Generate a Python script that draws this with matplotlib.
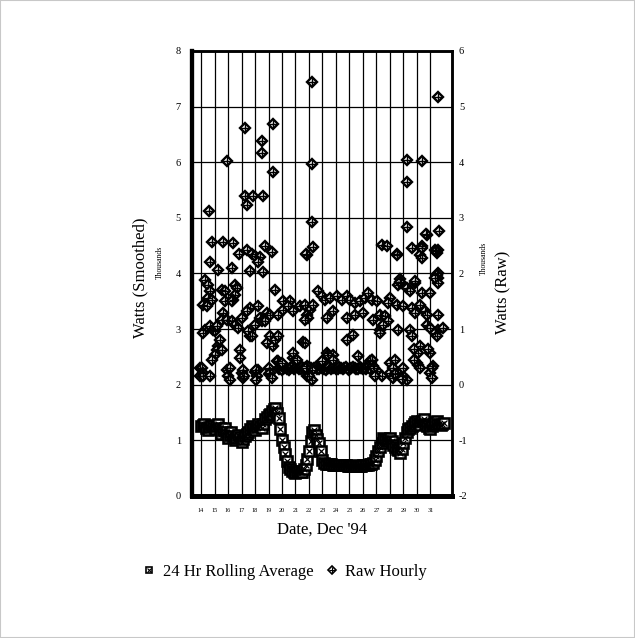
import numpy as np
import matplotlib
matplotlib.use("Agg")
import matplotlib.pyplot as plt
from matplotlib.lines import Line2D
from matplotlib.patches import Rectangle

# 24 hr rolling average, thousands of watts (left axis), every 3 hours from Dec 14
rolling = [
    1.25, 1.28, 1.30, 1.22, 1.18, 1.24, 1.28, 1.26,   # 14
    1.20, 1.26, 1.30, 1.22, 1.12, 1.18, 1.22, 1.15,   # 15
    1.05, 1.10, 1.15, 1.08, 1.00, 1.04, 1.10, 1.06,   # 16
    0.97, 1.02, 1.08, 1.12, 1.15, 1.20, 1.25, 1.22,   # 17
    1.18, 1.24, 1.30, 1.26, 1.22, 1.30, 1.38, 1.42,   # 18
    1.45, 1.48, 1.52, 1.56, 1.58, 1.50, 1.40, 1.20,   # 19
    1.00, 0.88, 0.75, 0.62, 0.52, 0.48, 0.45, 0.43,   # 20
    0.42, 0.44, 0.45, 0.44, 0.43, 0.48, 0.55, 0.66,   # 21
    0.80, 0.98, 1.15, 1.18, 1.10, 1.02, 0.95, 0.80,   # 22
    0.65, 0.60, 0.58, 0.58, 0.57, 0.57, 0.56, 0.56,   # 23
    0.56, 0.55, 0.55, 0.55, 0.55, 0.55, 0.55, 0.54,   # 24
    0.54, 0.54, 0.55, 0.54, 0.54, 0.54, 0.54, 0.54,   # 25
    0.55, 0.55, 0.55, 0.56, 0.57, 0.58, 0.60, 0.65,   # 26
    0.72, 0.80, 0.88, 0.96, 1.05, 1.02, 0.98, 1.02,   # 27
    1.05, 0.98, 0.92, 0.88, 0.85, 0.82, 0.78, 0.85,   # 28
    0.95, 1.05, 1.15, 1.20, 1.22, 1.26, 1.30, 1.33,   # 29
    1.35, 1.32, 1.28, 1.34, 1.38, 1.30, 1.25, 1.22,   # 30
    1.20, 1.25, 1.30, 1.33, 1.35, 1.30, 1.28, 1.30,   # 31
    1.32,
]
roll_day = 14 + 0.125 * np.arange(len(rolling))

# raw hourly readings, thousands of watts (right axis)
raw_day = [
    13.93, 13.93, 14.05, 14.17, 14.17, 14.59, 14.67, 14.79, 14.30, 14.54,
    14.67, 14.54, 14.79, 14.17, 14.42, 14.30, 14.17, 14.67, 14.91, 15.04,
    15.16, 15.28, 15.16, 15.04, 14.79, 15.53, 15.41, 14.67,
    15.65, 15.28, 15.53, 15.78, 15.78, 15.65, 15.53, 15.90, 15.90, 16.02, 15.90, 16.15, 16.15,
    16.40, 16.27, 16.84, 16.52, 16.64, 16.52, 16.40, 16.27, 16.27, 16.52, 16.77,
    16.89, 16.89, 17.01, 17.14, 17.01, 17.13, 17.17, 17.26, 17.26, 17.38,
    17.38, 17.75, 17.63, 17.63, 17.38, 17.63, 17.51, 17.75, 17.83, 18.00,
    18.25, 18.00, 18.25, 18.12, 18.00, 18.37, 18.49, 18.74, 18.10, 18.10,
    18.37, 18.25, 18.74, 18.62, 18.49, 18.49, 18.60, 18.86,
    19.11, 18.86, 19.36, 19.11, 19.00, 19.00, 19.11, 19.23,
    19.23, 19.36, 19.31, 19.48, 19.73, 19.48, 19.73, 19.60, 19.73, 19.98, 20.10, 20.10,
    20.59, 20.47, 20.84, 20.84, 20.84, 21.09, 21.33, 21.58,
    21.70, 22.07, 22.32, 21.83, 21.95, 21.70, 21.70, 21.83, 21.95, 21.83,
    21.83, 22.32, 21.78, 22.20, 22.20, 22.20, 22.20, 22.20, 21.80, 22.00,
    22.69, 22.94, 23.19, 22.94, 23.31, 23.31, 23.80, 23.43, 23.80, 23.56, 23.80,
    24.05, 24.42, 24.79, 25.04, 25.41, 25.78, 26.15, 26.40, 26.64, 27.01, 24.79,
    25.41, 26.02, 26.77, 24.79, 25.28, 25.65, 26.50, 26.64, 26.77, 27.01, 27.38,
    27.38, 27.75, 27.26, 27.63, 27.88, 27.26, 27.51, 27.26,
    28.00, 27.88, 28.00, 28.00, 28.25, 26.70, 26.80, 26.90,
    28.54, 28.50, 28.74, 28.80, 28.62, 28.74, 29.23, 29.48, 29.85, 28.49,
    28.99, 29.60, 29.85, 28.62, 29.48, 29.60, 28.62, 28.99, 29.23, 28.37,
    28.20, 28.40, 29.28, 29.28, 29.28, 29.60, 29.00, 28.90,
    30.35, 30.22, 30.72, 30.35, 30.67, 30.35, 30.35, 29.85, 30.35, 30.96, 30.22, 30.59,
    30.72, 30.72, 30.96, 30.22, 30.10, 30.96, 29.98, 30.10, 30.22, 29.80, 29.80, 30.80,
    31.58, 31.46, 31.58, 31.65, 31.33, 31.40, 31.58, 31.55, 31.46, 31.58,
    31.33, 31.58, 31.58, 31.95, 31.33, 31.46, 30.96, 31.09, 31.21, 31.10,
]
raw_kw = [
    0.30, 0.15, 0.30, 0.21, 0.15, 3.13, 2.20, 2.56, 1.88, 1.79,
    1.68, 1.56, 1.53, 1.44, 1.41, 0.99, 0.93, 1.05, 0.99, 0.96,
    1.05, 0.69, 0.63, 0.54, 0.45, 0.63, 0.81, 0.15,
    2.57, 2.06, 1.71, 1.68, 1.50, 1.29, 1.17, 1.17, 0.27, 0.15, 4.03, 0.30, 0.09,
    2.54, 2.09, 2.35, 1.79, 1.74, 1.62, 1.53, 1.50, 1.14, 1.08, 1.02,
    0.63, 0.48, 0.21, 0.12, 1.20, 0.27, 0.15, 4.62, 3.40, 3.23,
    2.42, 2.35, 2.05, 1.38, 1.32, 0.87, 0.96, 0.87, 3.39, 2.32,
    1.41, 0.23, 0.27, 0.15, 1.08, 1.20, 1.14, 1.14, 0.27, 0.09,
    2.30, 2.21, 2.50, 2.02, 4.39, 4.16, 3.39, 1.29,
    1.26, 0.75, 0.69, 0.87, 0.20, 0.30, 0.21, 0.12,
    2.39, 4.69, 3.83, 1.71, 1.26, 0.81, 0.87, 0.42, 0.42, 0.39, 1.35, 1.50,
    1.50, 1.41, 1.32, 0.48, 0.57, 0.45, 1.41, 0.77,
    1.44, 1.35, 1.44, 1.26, 1.20, 1.17, 0.75, 0.33, 0.24, 0.15,
    2.33, 2.48, 2.35, 5.44, 3.97, 2.92, 0.27, 0.09, 0.30, 0.15,
    1.68, 1.59, 1.53, 0.42, 1.20, 0.57, 0.54, 0.54, 0.45, 1.56, 1.32,
    1.59, 1.53, 1.59, 1.53, 1.47, 1.50, 1.56, 1.65, 1.53, 1.50, 1.20,
    1.26, 1.29, 1.17, 0.81, 0.90, 0.51, 0.42, 0.45, 0.33, 0.24, 0.15,
    2.51, 2.50, 1.26, 1.23, 1.14, 0.99, 1.08, 0.93,
    1.56, 1.47, 0.39, 0.21, 0.12, 0.45, 0.30, 0.15,
    2.35, 2.33, 1.90, 1.83, 1.79, 1.85, 1.74, 1.68, 1.82, 1.44,
    1.41, 1.38, 1.29, 0.99, 0.99, 0.87, 0.21, 0.15, 0.09, 0.45,
    0.30, 0.20, 4.04, 3.64, 2.83, 2.45, 0.30, 0.10,
    2.50, 2.33, 2.69, 4.03, 2.71, 2.46, 2.28, 1.87, 1.65, 1.65, 1.44, 1.32,
    1.26, 1.08, 1.02, 0.69, 0.57, 0.57, 0.39, 0.36, 0.30, 0.65, 0.45, 0.65,
    2.42, 2.36, 5.17, 2.77, 2.42, 2.41, 2.00, 1.92, 1.97, 1.82,
    1.91, 1.26, 0.99, 1.02, 0.93, 0.87, 0.21, 0.12, 0.33, 0.30,
]

# base load readings Dec 19 - 26, every 3 hours (right axis)
base_kw = [
    0.28, 0.31, 0.27, 0.30, 0.32, 0.29, 0.27, 0.30, 0.31, 0.28, 0.30,
    0.32, 0.29, 0.28, 0.31, 0.30, 0.27, 0.29, 0.31, 0.30, 0.28, 0.30,
    0.32, 0.29, 0.28, 0.31, 0.30, 0.29, 0.27, 0.30, 0.31, 0.29, 0.30,
    0.32, 0.28, 0.29, 0.31, 0.30, 0.28, 0.30, 0.31, 0.29, 0.27, 0.30,
    0.32, 0.30, 0.28, 0.29, 0.31, 0.30, 0.28, 0.30, 0.29, 0.31, 0.28,
]
base_day = 19.75 + 0.125 * np.arange(len(base_kw))

day_ticks = list(range(14, 32))
left_ticks = list(range(0, 9))
right_ticks = list(range(-2, 7))

plt.rcParams['font.family'] = ['Liberation Serif', 'DejaVu Serif']
plt.rcParams['axes.unicode_minus'] = False

fig = plt.figure(figsize=(6.35, 6.38), dpi=100)
ax = fig.add_axes([0.3024, 0.2226, 0.4094, 0.6975])
ax2 = ax.twinx()

ax.set_xlim(13.33, 32.6)
ax.set_ylim(0, 8)
ax2.set_ylim(-2, 6)

ax.set_xticks(day_ticks)
ax.set_xticklabels([str(d) for d in day_ticks])
ax.set_yticks(left_ticks)
ax2.set_yticks(right_ticks)
ax.grid(True, color='black', linewidth=0.9)
ax.set_axisbelow(True)

# rolling average: squares with a cross
ax.plot(roll_day, rolling, ls='none', marker='s', ms=7.5, mfc='white',
        mec='black', mew=1.9, zorder=3)
ax.plot(roll_day, rolling, ls='none', marker='x', ms=4, color='black',
        mew=0.9, zorder=3)

# raw hourly: diamonds with a plus
for dd, vv in [(base_day, base_kw), (raw_day, raw_kw)]:
    ax2.plot(dd, vv, ls='none', marker='D', ms=5.5, mfc='white',
             mec='black', mew=1.7, zorder=3)
    ax2.plot(dd, vv, ls='none', marker='+', ms=5.5, color='black',
             mew=1.0, zorder=3)

ax.tick_params(axis='both', length=0)
ax.tick_params(axis='y', pad=8, labelsize=7.5)
ax.tick_params(axis='x', pad=9, labelsize=4.5)
ax2.tick_params(axis='y', length=0, pad=5, labelsize=7.5)

for a in (ax, ax2):
    a.spines['left'].set_linewidth(3)
    a.spines['bottom'].set_linewidth(3.5)
    a.spines['top'].set_linewidth(1.8)
    a.spines['right'].set_linewidth(1.8)

fig.text(140 / 635, 1 - 278 / 638, 'Watts (Smoothed)', rotation=90,
         ha='center', va='center', fontsize=12)
fig.text(160 / 635, 1 - 262 / 638, 'Thousands', rotation=90,
         ha='center', va='center', fontsize=5.5)
fig.text(484 / 635, 1 - 258 / 638, 'Thousands', rotation=90,
         ha='center', va='center', fontsize=5.5)
fig.text(503 / 635, 1 - 292 / 638, 'Watts (Raw)', rotation=90,
         ha='center', va='center', fontsize=12)
fig.text(322 / 635, 1 - 530 / 638, "Date, Dec '94", ha='center',
         va='center', fontsize=12)

h1 = (Line2D([], [], ls='none', marker='s', ms=5, mfc='white', mec='black', mew=1.2),
      Line2D([], [], ls='none', marker='x', ms=3, color='black', mew=0.8))
h2 = (Line2D([], [], ls='none', marker='D', ms=4.5, mfc='white', mec='black', mew=1.2),
      Line2D([], [], ls='none', marker='+', ms=4.5, color='black', mew=0.8))
fig.legend([h1, h2], ['24 Hr Rolling Average', 'Raw Hourly'],
           loc='center left', bbox_to_anchor=(136 / 635, 1 - 572 / 638),
           ncol=2, frameon=False, handlelength=0.8, handletextpad=0.4,
           columnspacing=0.7, fontsize=12, borderaxespad=0)

fig.patches.append(Rectangle((0, 0), 1, 1, transform=fig.transFigure,
                             fill=False, ec='#c8c8c8', lw=1.5))

fig.savefig('out.png', dpi=100)
